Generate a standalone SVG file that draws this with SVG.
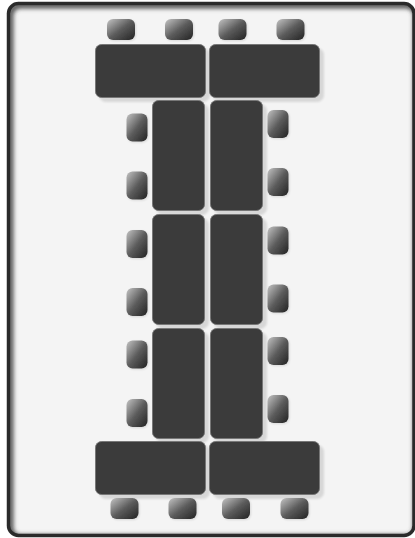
<svg xmlns="http://www.w3.org/2000/svg" width="415" height="538" viewBox="0 0 415 538">
<style>
.t{fill:#3a3a3a;stroke:#777;stroke-width:1;filter:url(#ts)}
.c{fill:url(#cg);filter:url(#cs)}
.f{fill:none;stroke-width:3.5}
</style>
<defs>
<linearGradient id="cg" x1="0" y1="0" x2="1" y2="1"><stop offset="0" stop-color="#c4c4c4"/><stop offset=".5" stop-color="#5c5c5c"/><stop offset="1" stop-color="#222"/></linearGradient>
<filter id="ts" x="-15%" y="-15%" width="135%" height="135%"><feGaussianBlur in="SourceAlpha" stdDeviation="1.2"/><feOffset dx="4" dy="4"/><feComponentTransfer result="s"><feFuncA type="linear" slope=".12"/></feComponentTransfer><feGaussianBlur in="SourceGraphic" stdDeviation=".7" result="b"/><feMerge><feMergeNode in="s"/><feMergeNode in="b"/></feMerge></filter>
<filter id="cs" x="-25%" y="-25%" width="150%" height="150%"><feGaussianBlur in="SourceAlpha" stdDeviation="1"/><feOffset dx=".5" dy=".5"/><feComponentTransfer result="s"><feFuncA type="linear" slope=".12"/></feComponentTransfer><feGaussianBlur in="SourceGraphic" stdDeviation=".6" result="b"/><feMerge><feMergeNode in="s"/><feMergeNode in="b"/></feMerge></filter>
<filter id="fb" x="-5%" y="-5%" width="110%" height="110%"><feGaussianBlur stdDeviation="2.2"/></filter>
<filter id="fe" x="-2%" y="-2%" width="104%" height="104%"><feGaussianBlur stdDeviation=".6"/></filter>
<clipPath id="fc"><rect x="8" y="3" width="406" height="532" rx="10"/></clipPath>
</defs>
<rect width="415" height="538" fill="#fff"/>
<g id="room">
<rect x="8.5" y="3.5" width="405.500" height="532" rx="10" fill="#f4f4f4"/>
<g clip-path="url(#fc)"><rect x="10.5" y="5.5" width="405.500" height="532" rx="10" class="f" style="stroke-width:6;stroke:#555" filter="url(#fb)"/></g>
<rect x="8.5" y="3.5" width="405.500" height="532" rx="10" class="f" stroke="#2c2c2c" filter="url(#fe)"/>
</g>
<g id="tables">
<g id="table-top-left"><rect class="t" x="95.5" y="44.5" width="110" height="53" rx="6"/></g>
<g id="table-top-right"><rect class="t" x="209.5" y="44.5" width="110" height="53" rx="6"/></g>
<g id="table-l1"><rect class="t" x="152.5" y="100.5" width="52" height="110" rx="6"/></g>
<g id="table-r1"><rect class="t" x="210.5" y="100.5" width="52" height="110" rx="6"/></g>
<g id="table-l2"><rect class="t" x="152.5" y="214.5" width="52" height="110" rx="6"/></g>
<g id="table-r2"><rect class="t" x="210.5" y="214.5" width="52" height="110" rx="6"/></g>
<g id="table-l3"><rect class="t" x="152.5" y="328.5" width="52" height="110" rx="6"/></g>
<g id="table-r3"><rect class="t" x="210.5" y="328.5" width="52" height="110" rx="6"/></g>
<g id="table-bottom-left"><rect class="t" x="95.5" y="441.5" width="110" height="53" rx="6"/></g>
<g id="table-bottom-right"><rect class="t" x="209.5" y="441.5" width="110" height="53" rx="6"/></g>
</g>
<g id="chairs">
<g id="chair-t1"><rect class="c" x="107" y="19" width="28" height="21" rx="6"/></g>
<g id="chair-t2"><rect class="c" x="165" y="19" width="28" height="21" rx="6"/></g>
<g id="chair-t3"><rect class="c" x="218.5" y="19" width="28" height="21" rx="6"/></g>
<g id="chair-t4"><rect class="c" x="276.5" y="19" width="28" height="21" rx="6"/></g>
<g id="chair-l1"><rect class="c" x="126.5" y="113.500" width="21" height="28" rx="6"/></g>
<g id="chair-l2"><rect class="c" x="126.5" y="171.500" width="21" height="28" rx="6"/></g>
<g id="chair-l3"><rect class="c" x="126.5" y="230" width="21" height="28" rx="6"/></g>
<g id="chair-l4"><rect class="c" x="126.5" y="288" width="21" height="28" rx="6"/></g>
<g id="chair-l5"><rect class="c" x="126.5" y="340.500" width="21" height="28" rx="6"/></g>
<g id="chair-l6"><rect class="c" x="126.5" y="399" width="21" height="28" rx="6"/></g>
<g id="chair-r1"><rect class="c" x="267.500" y="110" width="21" height="28" rx="6"/></g>
<g id="chair-r2"><rect class="c" x="267.500" y="168" width="21" height="28" rx="6"/></g>
<g id="chair-r3"><rect class="c" x="267.500" y="226.500" width="21" height="28" rx="6"/></g>
<g id="chair-r4"><rect class="c" x="267.500" y="284.500" width="21" height="28" rx="6"/></g>
<g id="chair-r5"><rect class="c" x="267.500" y="337" width="21" height="28" rx="6"/></g>
<g id="chair-r6"><rect class="c" x="267.500" y="395" width="21" height="28" rx="6"/></g>
<g id="chair-b1"><rect class="c" x="110.500" y="498" width="28" height="21" rx="6"/></g>
<g id="chair-b2"><rect class="c" x="168.500" y="498" width="28" height="21" rx="6"/></g>
<g id="chair-b3"><rect class="c" x="222" y="498" width="28" height="21" rx="6"/></g>
<g id="chair-b4"><rect class="c" x="280.500" y="498" width="28" height="21" rx="6"/></g>
</g>
<g id="connectors"/>
</svg>
